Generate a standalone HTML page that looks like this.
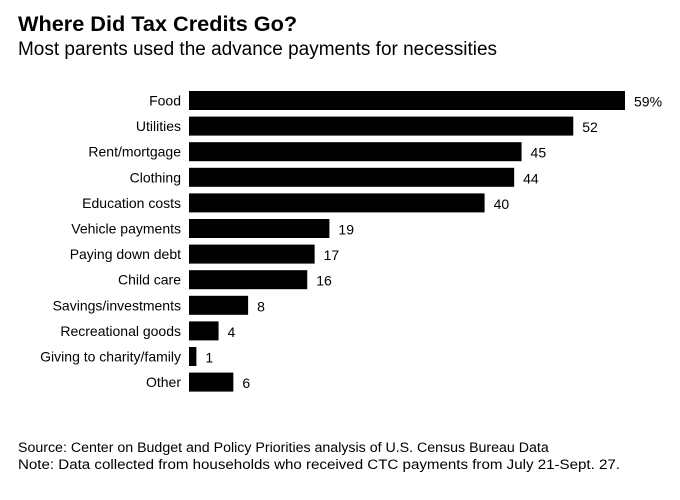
<!DOCTYPE html>
<html><head><meta charset="utf-8"><style>
body{margin:0;background:#fff;font-family:"Liberation Sans",sans-serif;}
#c{position:relative;width:680px;height:500px;overflow:hidden;}
</style></head><body>
<div id="c">
<svg width="680" height="500">
<text x="18" y="31" font-size="21.7" font-weight="bold" fill="#000">Where Did Tax Credits Go?</text>
<text x="18" y="55" font-size="19" textLength="479" lengthAdjust="spacingAndGlyphs" fill="#000">Most parents used the advance payments for necessities</text>
<g id="bars"></g>
<text x="18" y="452" font-size="14.2" fill="#000">Source: Center on Budget and Policy Priorities analysis of U.S. Census Bureau Data</text>
<text x="18" y="469" font-size="14.2" textLength="602" lengthAdjust="spacingAndGlyphs" fill="#000">Note: Data collected from households who received CTC payments from July 21-Sept. 27.</text>
</svg>
</div>
<script>
const categories=["Food","Utilities","Rent/mortgage","Clothing","Education costs","Vehicle payments","Paying down debt","Child care","Savings/investments","Recreational goods","Giving to charity/family","Other"];
const values=[59,52,45,44,40,19,17,16,8,4,1,6];
const valueLabels=["59%","52","45","44","40","19","17","16","8","4","1","6"];
const ns="http://www.w3.org/2000/svg";
const g=document.getElementById('bars');
const x0=189,scale=(625-189)/59,y0=91,step=25.6,bh=19;
const xs=v=>v*scale, ys=i=>y0+i*step;
categories.forEach((c,i)=>{
  const y=ys(i);
  const t=document.createElementNS(ns,'text');
  t.setAttribute('x',181);t.setAttribute('y',y+bh/2+5);t.setAttribute('text-anchor','end');
  t.setAttribute('font-size','14');t.textContent=c;
  
  
  g.appendChild(t);
  const r=document.createElementNS(ns,'rect');
  r.setAttribute('x',x0);r.setAttribute('y',y);r.setAttribute('width',xs(values[i]));r.setAttribute('height',bh);r.setAttribute('fill','#000');
  
  
  g.appendChild(r);
  const v=document.createElementNS(ns,'text');
  v.setAttribute('x',x0+xs(values[i])+9);v.setAttribute('y',y+bh/2+6);
  v.setAttribute('font-size','14');v.textContent=valueLabels[i];
  
  
  g.appendChild(v);
});
</script>
</body></html>
